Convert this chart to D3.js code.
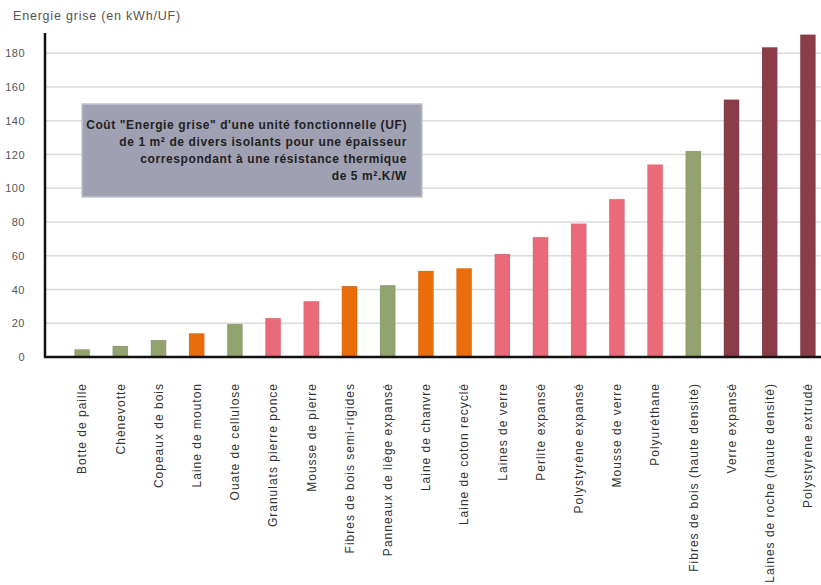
<!DOCTYPE html>
<html lang="fr">
<head>
    <meta charset="UTF-8">
    <style>
        body { margin: 0; background: #fff; font-family: 'Liberation Sans', Arial, sans-serif; }
        .grid line { stroke: #dcdcdc; stroke-width: 1.5px; }
        .tick text { fill: #555; }
    </style>
    <script src="https://d3js.org/d3.v7.min.js"></script>
    <title>Energie grise</title>
</head>
<body>
<div id="chart"></div>
<script>
    // materials, in the order of the picture
    const materials = [
        "Botte de paille", "Chènevotte", "Copeaux de bois", "Laine de mouton",
        "Ouate de cellulose", "Granulats pierre ponce", "Mousse de pierre",
        "Fibres de bois semi-rigides", "Panneaux de liège expansé", "Laine de chanvre",
        "Laine de coton recyclé", "Laines de verre", "Perlite expansé",
        "Polystyrène expansé", "Mousse de verre", "Polyuréthane",
        "Fibres de bois (haute densité)", "Verre expansé",
        "Laines de roche (haute densité)", "Polystyrène extrudé"
    ];
    // kWh per UF
    const energie = [4.5, 6.5, 10, 14, 19.5, 23, 33, 42, 42.5, 51,
                     52.5, 61, 71, 79, 93.5, 114, 122, 152.5, 183.5, 191];
    // colour family of each bar
    const famille = ["vert", "vert", "vert", "orange", "vert", "rose", "rose", "orange", "vert", "orange",
                     "orange", "rose", "rose", "rose", "rose", "rose", "vert", "bordeaux", "bordeaux", "bordeaux"];
    const yTicks = [0, 20, 40, 60, 80, 100, 120, 140, 160, 180];

    const couleurs = {vert: "#93a36f", orange: "#ea6c0b", rose: "#ea6a79", bordeaux: "#8a3d48"};

    const W = 821, H = 585;
    const x0 = 45, yBase = 357, yTop = 33;

    const svg = d3.select("#chart").append("svg")
        .attr("width", W).attr("height", H);

    const x = d3.scaleBand()
        .domain(materials)
        .range([63, 827])
        .paddingInner(0.6)
        .paddingOuter(0.3);

    const y = d3.scaleLinear()
        .domain([0, 192])
        .range([yBase, yTop]);

    // gridlines
    svg.append("g").attr("class", "grid")
        .selectAll("line")
        .data(yTicks.slice(1))
        .join("line")
        .attr("x1", x0).attr("x2", W)
        .attr("y1", d => y(d)).attr("y2", d => y(d));

    // annotation box
    const box = svg.append("g");
    box.append("rect")
        .attr("x", 82).attr("y", 104)
        .attr("width", 340).attr("height", 93)
        .attr("fill", "#a0a0b3")
        .attr("stroke", "#c4c4cf").attr("stroke-width", 1.5);
    const lignes = [
        "Coût \"Energie grise\" d'une unité fonctionnelle (UF)",
        "de 1 m² de divers isolants pour une épaisseur",
        "correspondant à une résistance thermique",
        "de 5 m².K/W"
    ];
    box.selectAll("text")
        .data(lignes)
        .join("text")
        .attr("x", 407)
        .attr("y", (d, i) => 129 + i * 17)
        .attr("text-anchor", "end")
        .style("font-size", "12px")
        .style("letter-spacing", "0.6px")
        .style("font-weight", "bold")
        .style("fill", "#222")
        .text(d => d);

    // bars
    svg.append("g")
        .selectAll("rect")
        .data(materials)
        .join("rect")
        .attr("x", d => x(d))
        .attr("width", x.bandwidth())
        .attr("y", (d, i) => y(energie[i]))
        .attr("height", (d, i) => yBase - y(energie[i]))
        .attr("fill", (d, i) => couleurs[famille[i]])
        .attr("stroke", "rgba(0,0,0,0.08)")
        .attr("stroke-width", 1);

    // y axis
    const yAxis = svg.append("g")
        .attr("transform", "translate(" + x0 + ",0)")
        .call(d3.axisLeft(y).tickValues(yTicks).tickSize(0).tickPadding(20));
    yAxis.select(".domain").remove();
    yAxis.selectAll(".tick text")
        .style("font-size", "11px")
        .style("letter-spacing", "0.5px")
        .style("font-family", "'Liberation Sans', Arial, sans-serif");

    svg.append("line")
        .attr("x1", x0).attr("x2", x0)
        .attr("y1", yTop).attr("y2", yBase + 1)
        .attr("stroke", "#111").attr("stroke-width", 2.5);

    // x axis
    const xAxis = svg.append("g")
        .attr("transform", "translate(0," + yBase + ")")
        .call(d3.axisBottom(x).tickSize(0).tickPadding(0));
    xAxis.select(".domain").remove();
    xAxis.selectAll(".tick text")
        .attr("transform", "translate(0,26) rotate(-90)")
        .attr("x", 0).attr("y", 0).attr("dy", "0.35em")
        .style("text-anchor", "end")
        .style("font-size", "12px")
        .style("letter-spacing", "1px")
        .style("fill", "#333")
        .style("font-family", "'Liberation Sans', Arial, sans-serif");

    svg.append("line")
        .attr("x1", x0 - 1).attr("x2", W)
        .attr("y1", yBase).attr("y2", yBase)
        .attr("stroke", "#111").attr("stroke-width", 2.5);

    // y axis title
    svg.append("text")
        .attr("x", 13).attr("y", 20)
        .style("font-size", "12.5px")
        .style("letter-spacing", "0.8px")
        .style("fill", "#555")
        .text("Energie grise (en kWh/UF)");
</script>
</body>
</html>
